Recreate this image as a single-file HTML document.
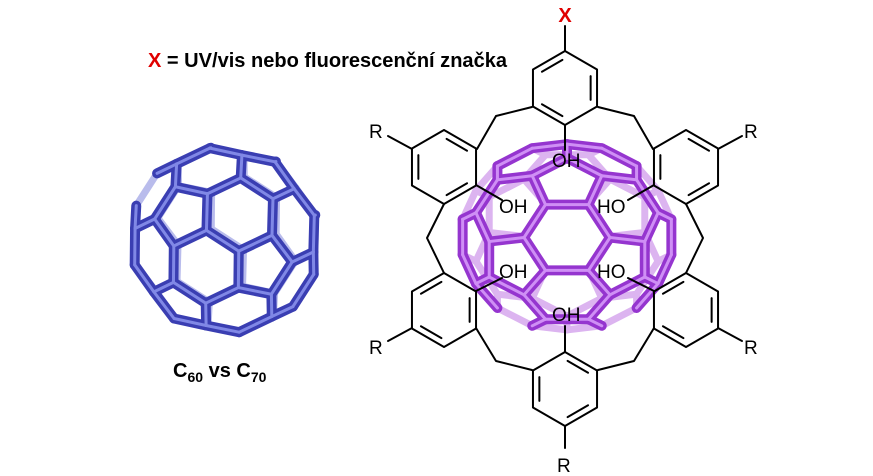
<!DOCTYPE html>
<html><head><meta charset="utf-8">
<style>
html,body{margin:0;padding:0;background:#fff;}
svg{display:block;}
text{font-family:"Liberation Sans",sans-serif;}
</style></head>
<body>
<svg id="s" width="873" height="476" viewBox="0 0 873 476" xmlns="http://www.w3.org/2000/svg">
<g id="c60"></g>
<g id="c70"></g>
<g id="chem" stroke="#000" stroke-width="2" fill="none" stroke-linecap="round" stroke-linejoin="round"></g>
<text x="148" y="67" font-size="20" font-weight="bold" textLength="359" lengthAdjust="spacingAndGlyphs"><tspan fill="#e00000">X</tspan> = UV/vis nebo fluorescenční značka</text>
<text x="565" y="22" font-size="20" font-weight="bold" fill="#e00000" text-anchor="middle">X</text>
<text x="173" y="377" font-size="20" font-weight="bold">C<tspan font-size="14" dy="5">60</tspan><tspan dy="-5"> vs C</tspan><tspan font-size="14" dy="5">70</tspan></text>
<g font-size="19" fill="#000">
<text x="369" y="138">R</text>
<text x="744" y="138">R</text>
<text x="369" y="354">R</text>
<text x="744" y="354">R</text>
<text x="557" y="472">R</text>
<text x="552" y="167">OH</text>
<text x="499" y="213">OH</text>
<text x="597" y="213">HO</text>
<text x="499" y="278">OH</text>
<text x="597" y="278">HO</text>
<text x="552" y="321">OH</text>
</g>
</svg>
<script>
(function(){
var NS="http://www.w3.org/2000/svg";
var p=(1+Math.sqrt(5))/2;
var base=[[0,1,3*p],[1,2+p,2*p],[p,2,2*p+1]];
var V=[];
function add(v){for(var i=0;i<V.length;i++){var d=Math.abs(V[i][0]-v[0])+Math.abs(V[i][1]-v[1])+Math.abs(V[i][2]-v[2]);if(d<1e-6)return;}V.push(v);}
base.forEach(function(b){
 for(var sx=-1;sx<=1;sx+=2)for(var sy=-1;sy<=1;sy+=2)for(var sz=-1;sz<=1;sz+=2){
  var v=[b[0]*sx,b[1]*sy,b[2]*sz];
  add([v[0],v[1],v[2]]);add([v[1],v[2],v[0]]);add([v[2],v[0],v[1]]);
 }});
var E=[];
for(var i=0;i<V.length;i++)for(var j=i+1;j<V.length;j++){
 var dx=V[i][0]-V[j][0],dy=V[i][1]-V[j][1],dz=V[i][2]-V[j][2];
 if(Math.abs(dx*dx+dy*dy+dz*dz-4)<1e-3)E.push([i,j]);}
function rot(v,a,b,c){
 var x=v[0],y=v[1],z=v[2],t;
 t=y*Math.cos(a)-z*Math.sin(a);z=y*Math.sin(a)+z*Math.cos(a);y=t;
 t=x*Math.cos(b)+z*Math.sin(b);z=-x*Math.sin(b)+z*Math.cos(b);x=t;
 t=x*Math.cos(c)-y*Math.sin(c);y=x*Math.sin(c)+y*Math.cos(c);x=t;
 return [x,y,z];}
function draw(gid,cx,cy,sx,sy,angs,dark,hi,back){
 var g=document.getElementById(gid);
 var P=V.map(function(v){return rot(v,angs[0],angs[1],angs[2]);});
 var eb=[],ef=[];
 E.forEach(function(e){var z=P[e[0]][2]+P[e[1]][2];(z<0?eb:ef).push(e);});
 function line(e,col,w){var l=document.createElementNS(NS,"line");
  l.setAttribute("x1",cx+P[e[0]][0]*sx);l.setAttribute("y1",cy+P[e[0]][1]*sy);
  l.setAttribute("x2",cx+P[e[1]][0]*sx);l.setAttribute("y2",cy+P[e[1]][1]*sy);
  l.setAttribute("stroke",col);l.setAttribute("stroke-width",w);l.setAttribute("stroke-linecap","round");g.appendChild(l);}
 eb.forEach(function(e){line(e,back,7);});
 ef.forEach(function(e){line(e,dark,10);});
 ef.forEach(function(e){line(e,hi,3);});
}
draw("c60",225,240,19.2,19.2,[0.35,0.5,0.2],"#3a3eb2","#8088e6","#b9bcec");
draw("c70",567,237,21.5,19,[1.2,0.0,0.0],"#9535cf","#cf8ff5","#dcb4f0");
var c=document.getElementById("chem");
function L(pts){var pl=document.createElementNS(NS,"polyline");pl.setAttribute("points",pts.map(function(q){return q.join(",");}).join(" "));c.appendChild(pl);}
function ring(cx,cy,dbl){
 var r=37,pts=[];
 for(var k=0;k<6;k++){var a=-Math.PI/2+k*Math.PI/3;pts.push([cx+r*Math.cos(a),cy+r*Math.sin(a)]);}
 L(pts.concat([pts[0]]));
 dbl.forEach(function(k){var a=pts[k],b=pts[(k+1)%6];
  function q(pt){return [cx+(pt[0]-cx)*0.8,cy+(pt[1]-cy)*0.8];}
  var A=q(a),B=q(b);var dx=B[0]-A[0],dy=B[1]-A[1];
  L([[A[0]+dx*0.1,A[1]+dy*0.1],[B[0]-dx*0.1,B[1]-dy*0.1]]);});
 return pts;}
ring(565,88,[1,3,5]);
L([[565,51],[565,26]]);
L([[532,107],[496,116],[477,149]]);
L([[598,107],[634,116],[653,149]]);
L([[565,125],[565,150]]);
ring(444,167,[0,2,4]);
L([[412,149],[388,136]]);
L([[444,204],[427,238],[444,273]]);
ring(686,167,[0,2,4]);
L([[718,149],[742,136]]);
L([[686,204],[703,238],[686,273]]);
ring(444,310,[1,3,5]);
L([[412,328],[388,341]]);
L([[476,328],[496,361],[532,370]]);
ring(686,310,[1,3,5]);
L([[718,328],[742,341]]);
L([[654,328],[634,361],[598,370]]);
ring(565,389,[0,2,4]);
L([[565,352],[565,326]]);
L([[565,426],[565,448]]);
L([[476,185],[502,200]]);
L([[654,185],[628,200]]);
L([[476,291],[502,278]]);
L([[654,291],[628,278]]);
})();
</script>
</body></html>
